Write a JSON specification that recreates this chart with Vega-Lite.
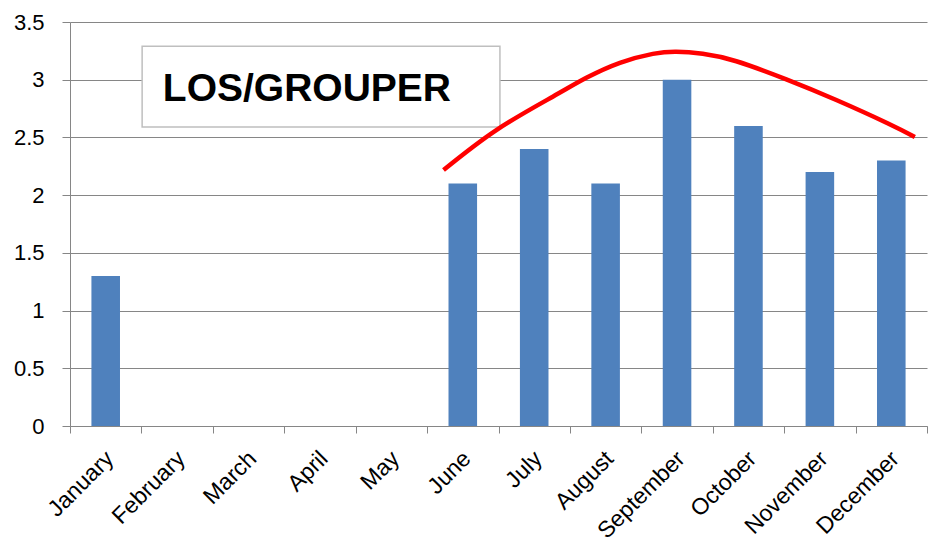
{
  "$schema": "https://vega.github.io/schema/vega-lite/v6.json",
  "width": 857,
  "height": 404,
  "autosize": "none",
  "padding": {"left": 70, "top": 22, "right": 6, "bottom": 129},
  "background": "white",
  "config": {"view": {"stroke": null}, "font": "Liberation Sans"},
  "datasets": {
    "bars": [
      {"month": "January", "value": 1.3},
      {"month": "February", "value": null},
      {"month": "March", "value": null},
      {"month": "April", "value": null},
      {"month": "May", "value": null},
      {"month": "June", "value": 2.1},
      {"month": "July", "value": 2.4},
      {"month": "August", "value": 2.1},
      {"month": "September", "value": 3.0},
      {"month": "October", "value": 2.6},
      {"month": "November", "value": 2.2},
      {"month": "December", "value": 2.3}
    ],
    "box": [{"x1": 1.01, "x2": 6.02, "y1": 2.59, "y2": 3.29, "label": "LOS/GROUPER", "tx": 1.3, "ty": 2.816}],
    "curve": [
      {"t": 5.23, "v": 2.218},
      {"t": 5.97, "v": 2.564},
      {"t": 6.76, "v": 2.853},
      {"t": 7.23, "v": 3.016},
      {"t": 7.70, "v": 3.146},
      {"t": 8.16, "v": 3.224},
      {"t": 8.49, "v": 3.243},
      {"t": 8.86, "v": 3.225},
      {"t": 9.33, "v": 3.160},
      {"t": 10.03, "v": 3.003},
      {"t": 10.73, "v": 2.824},
      {"t": 11.44, "v": 2.625},
      {"t": 11.83, "v": 2.504}
    ]
  },
  "layer": [
    {
      "data": {"name": "bars"},
      "mark": {"type": "bar", "color": "#4f81bd"},
      "encoding": {
        "x": {
          "field": "month", "type": "nominal", "sort": null,
          "scale": {"domain": ["January","February","March","April","May","June","July","August","September","October","November","December"], "paddingInner": 0.6, "paddingOuter": 0.3},
          "axis": null
        },
        "y": {
          "field": "value", "type": "quantitative",
          "scale": {"domain": [0, 3.5], "nice": false},
          "axis": {"title": null, "values": [0, 0.5, 1, 1.5, 2, 2.5, 3, 3.5], "format": "~g", "labelFontSize": 22, "labelColor": "#000000", "tickSize": 8, "tickColor": "#868686", "domainColor": "#868686", "gridColor": "#868686", "labelPadding": 18, "grid": true}
        }
      }
    },
    {
      "data": {"name": "box"},
      "mark": {"type": "rect", "fill": "white", "stroke": "#bfbfbf", "strokeWidth": 1.5},
      "encoding": {
        "x": {"field": "x1", "type": "quantitative", "scale": {"domain": [0, 12], "nice": false, "zero": false}, "axis": null},
        "x2": {"field": "x2"},
        "y": {"field": "y1", "type": "quantitative"},
        "y2": {"field": "y2"}
      }
    },
    {
      "data": {"name": "box"},
      "mark": {"type": "text", "font": "Liberation Sans", "fontWeight": "bold", "fontSize": 39, "align": "left", "baseline": "alphabetic", "color": "#000000"},
      "encoding": {
        "x": {"field": "tx", "type": "quantitative", "scale": {"domain": [0, 12], "nice": false, "zero": false}, "axis": null},
        "y": {"field": "ty", "type": "quantitative"},
        "text": {"field": "label"}
      }
    },
    {
      "data": {"name": "curve"},
      "mark": {"type": "line", "color": "#ff0000", "strokeWidth": 4.5, "interpolate": "natural"},
      "encoding": {
        "x": {
          "field": "t", "type": "quantitative", "scale": {"domain": [0, 12], "nice": false, "zero": false},
          "axis": {"title": null, "orient": "bottom", "values": [0,1,2,3,4,5,6,7,8,9,10,11,12], "grid": false,
            "labelExpr": "datum.value < 12 ? ['January','February','March','April','May','June','July','August','September','October','November','December'][datum.value] : ''",
            "labelAngle": -45, "labelAlign": "right", "labelFontSize": 23, "labelColor": "#000000", "labelOffset": 31.7, "labelPadding": 14,
            "labelOverlap": false, "labelFlush": false, "labelBound": false,
            "tickSize": 7, "tickColor": "#868686", "domainColor": "#868686"}
        },
        "y": {"field": "v", "type": "quantitative"}
      }
    }
  ],
  "resolve": {"scale": {"x": "independent"}}
}
